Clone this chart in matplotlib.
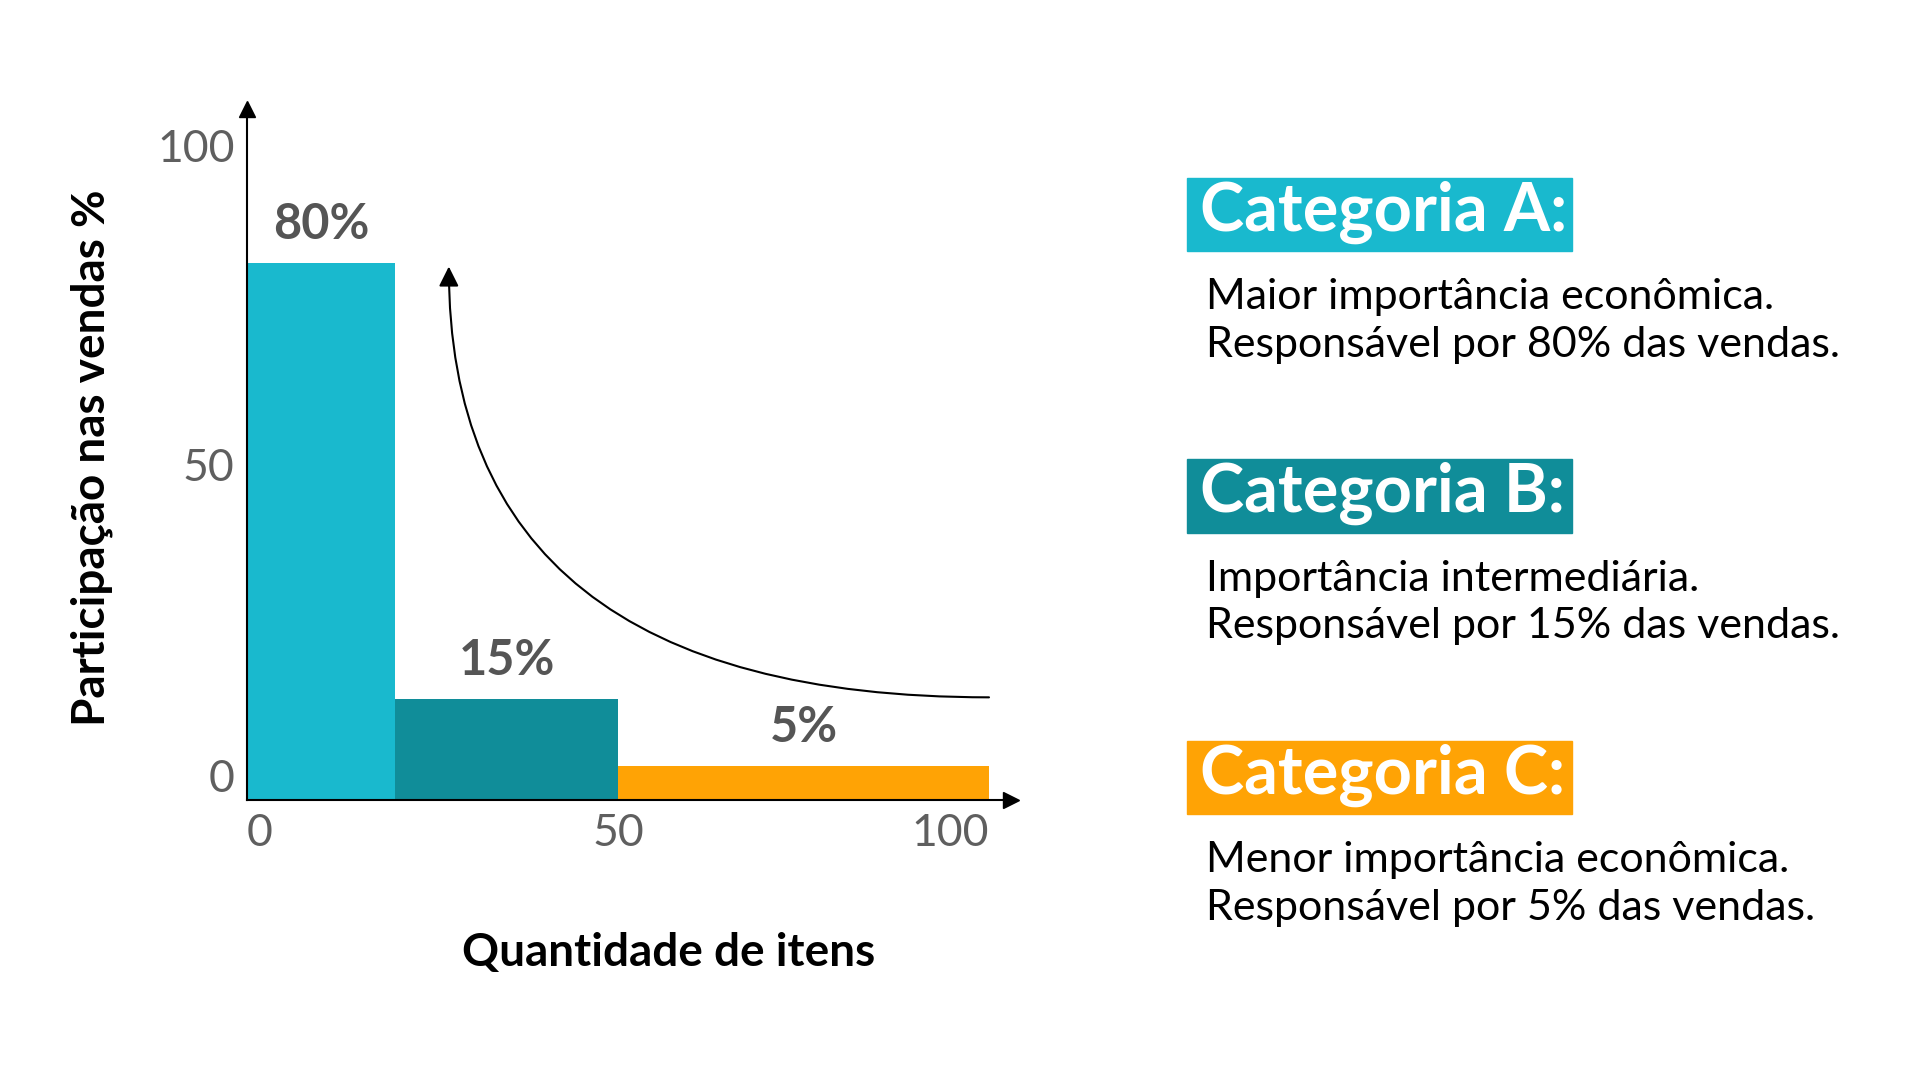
import matplotlib.pyplot as plt
from matplotlib.patches import Rectangle

# Dados da curva ABC
inicio_itens = [0, 20, 50]          # % acumulado de itens onde cada categoria começa
largura_itens = [20, 30, 50]        # % de itens em cada categoria
participacao = [80, 15, 5]          # % das vendas
rotulos = ['80%', '15%', '5%']
cores = ['#19B9CE', '#108D99', '#FFA305']
titulos = ['Categoria A:', 'Categoria B:', 'Categoria C:']
descricoes = [
    'Maior importância econômica.\nResponsável por 80% das vendas.',
    'Importância intermediária.\nResponsável por 15% das vendas.',
    'Menor importância econômica.\nResponsável por 5% das vendas.',
]
xticks = [0, 50, 100]
yticks = [0, 50, 100]
curva_inicio = (100, 15.3)
curva_fim = (27.2, 79.5)

plt.rcParams['font.family'] = ['Lato', 'DejaVu Sans']

W, H = 1920, 1080
fig = plt.figure(figsize=(19.2, 10.8), dpi=100)
fig.patch.set_facecolor('white')

# escala: 7.42 px por unidade em x, 6.71 px por unidade em y
lim = 103
ax = fig.add_axes([247 / W, 1 - 800 / H, 7.42 * lim / W, 6.71 * lim / H])
ax.bar(inicio_itens, participacao, width=largura_itens, align='edge',
       color=cores, zorder=2)
for x0, w, v, r in zip(inicio_itens, largura_itens, participacao, rotulos):
    ax.annotate(r, (x0 + w / 2, v), xytext=(0, 28), textcoords='offset points',
                ha='center', va='center', fontsize=35, fontweight='bold',
                color='#555555')

# seta curva
ax.annotate('', xy=curva_fim, xytext=curva_inicio,
            arrowprops=dict(arrowstyle='-|>,head_length=0.8,head_width=0.4',
                            connectionstyle='angle3,angleA=0,angleB=90',
                            lw=1.5, color='black', shrinkA=0, shrinkB=0,
                            mutation_scale=15))

ax.set_xlim(0, lim)
ax.set_ylim(0, lim)
for s in ['top', 'right']:
    ax.spines[s].set_visible(False)
for s in ['left', 'bottom']:
    ax.spines[s].set_linewidth(1.5)
    ax.spines[s].set_color('black')
    ax.spines[s].set_zorder(3)
ax.plot(1, 0, '>k', transform=ax.transAxes, clip_on=False, markersize=11)
ax.plot(0, 1, '^k', transform=ax.transAxes, clip_on=False, markersize=11)

ax.set_xticks(xticks)
ax.set_yticks(yticks)
ax.tick_params(length=0, labelsize=32, labelcolor='#5f5f5f', pad=9)
xl = ax.get_xticklabels()
xl[0].set_ha('left')
xl[-1].set_ha('right')
yl = ax.get_yticklabels()
yl[0].set_va('bottom')
yl[-1].set_va('top')

fig.text(92 / W, 1 - 458 / H, 'Participação nas vendas %', rotation=90,
         ha='center', va='center', fontsize=33, fontweight='bold')
fig.text(669 / W, 1 - 953 / H, 'Quantidade de itens',
         ha='center', va='center', fontsize=33, fontweight='bold')

# painel da direita
for i, (t, d, c) in enumerate(zip(titulos, descricoes, cores)):
    topo = 178 + i * 281.5
    fig.add_artist(Rectangle((1187 / W, 1 - (topo + 73) / H), 385 / W, 73 / H,
                             transform=fig.transFigure, color=c))
    fig.text(1200 / W, 1 - (topo + 34) / H, t, ha='left', va='center',
             fontsize=48, fontweight='bold', color='white')
    fig.text(1206 / W, 1 - (topo + 143) / H, d, ha='left', va='center',
             fontsize=31, color='black', linespacing=1.32)

fig.savefig('out.png', dpi=100, facecolor='white')
